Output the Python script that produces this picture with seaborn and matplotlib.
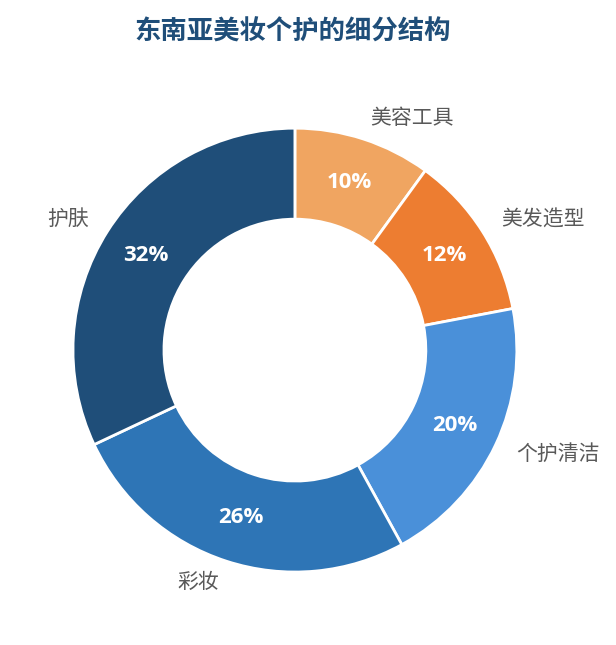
import matplotlib
matplotlib.use("Agg")
import matplotlib.pyplot as plt
import seaborn as sns

# 东南亚美妆个护细分结构 (share, %)
categories = ['美容工具', '美发造型', '个护清洁', '彩妆', '护肤']
shares = [10, 12, 20, 26, 32]
colors = ['#F0A561', '#ED7D31', '#4A90D9', '#2E75B6', '#1F4E79']

sns.set_theme(style="white")
plt.rcParams['font.family'] = ['Noto Sans CJK SC', 'DejaVu Sans']

fig = plt.figure(figsize=(6.16, 6.45), dpi=100)
ax = fig.add_axes([0.0104, 0.0099, 0.9367, 0.8946])

wedges, texts, autotexts = ax.pie(
    shares, labels=categories, colors=colors, startangle=90, counterclock=False,
    radius=1.0, labeldistance=1.1, pctdistance=0.795,
    autopct=lambda p: f'{p:.0f}%',
    wedgeprops=dict(width=0.41, edgecolor='white', linewidth=2),
    textprops=dict(fontsize=15, color='#595959'))

for t in autotexts:
    t.set_color('white')
    t.set_fontsize(16)
    t.set_fontweight('bold')
    t.set_family(['Open Sans', 'DejaVu Sans'])

ax.set_xlim(-1.3, 1.3)
ax.set_ylim(-1.3, 1.3)
ax.set_aspect('equal')
ax.axis('off')

fig.text(0.476, 0.950, '东南亚美妆个护的细分结构', ha='center', va='center',
         fontsize=19, fontweight='bold', color='#1F4E79')

fig.savefig('out.png', dpi=100, facecolor='white')
